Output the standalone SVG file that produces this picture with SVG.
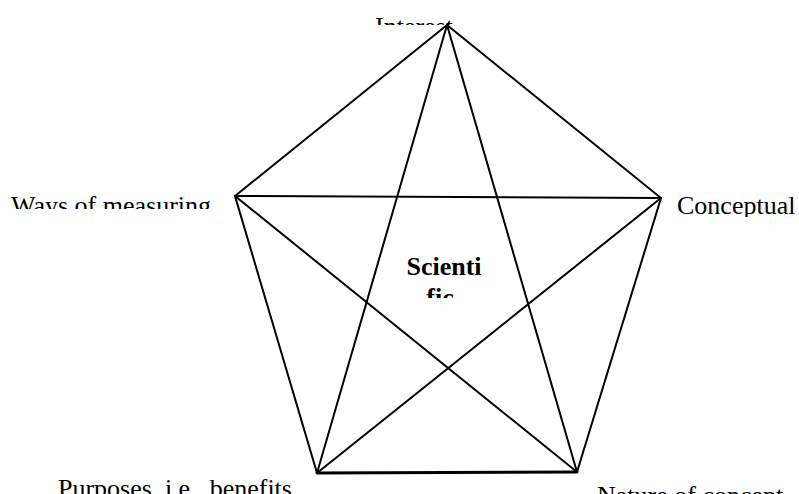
<svg xmlns="http://www.w3.org/2000/svg" width="799" height="494" viewBox="0 0 799 494">
<style>
.ln{stroke:#000;stroke-width:2;fill:none;stroke-linecap:round}
.lb{font-family:"Liberation Serif","Times New Roman",serif;font-size:26px;fill:#000}
.bd{font-weight:bold}
</style>
<defs>
<clipPath id="c1"><rect x="300" y="0" width="200" height="25"/></clipPath>
<clipPath id="c2"><rect x="0" y="180" width="230" height="29"/></clipPath>
<clipPath id="c3"><rect x="665" y="180" width="134" height="37"/></clipPath>
<clipPath id="c4"><rect x="380" y="240" width="130" height="58"/></clipPath>
</defs>
<rect width="799" height="494" fill="#fff"/>
<g id="connectors">
<polyline class="ln" points="447,25 235,196 317,473"/>
<polyline class="ln" points="447,25 661,198 577,472"/>
<line class="ln" x1="235" y1="196" x2="661" y2="198"/>
<line class="ln" x1="317" y1="473" x2="577" y2="472" style="stroke-width:3"/>
<line class="ln" x1="447" y1="25" x2="317" y2="473"/>
<line class="ln" x1="447" y1="25" x2="577" y2="472"/>
<line class="ln" x1="235" y1="196" x2="577" y2="472"/>
<line class="ln" x1="661" y1="198" x2="317" y2="473"/>
</g>
<g id="interest" clip-path="url(#c1)"><text class="lb" x="375" y="35">Interest</text></g>
<g id="ways" clip-path="url(#c2)"><text class="lb" x="11" y="214">Ways of measuring</text></g>
<g id="conceptual" clip-path="url(#c3)"><text class="lb" x="677" y="214">Conceptual</text></g>
<g id="scientific" clip-path="url(#c4)"><text class="lb bd" x="444" y="275" text-anchor="middle">Scienti</text><text class="lb bd" x="440" y="306" text-anchor="middle">fic</text></g>
<g id="purposes"><text class="lb" x="58" y="497">Purposes, i.e., benefits</text></g>
<g id="nature"><text class="lb" x="597" y="504">Nature of concept</text></g>
</svg>
